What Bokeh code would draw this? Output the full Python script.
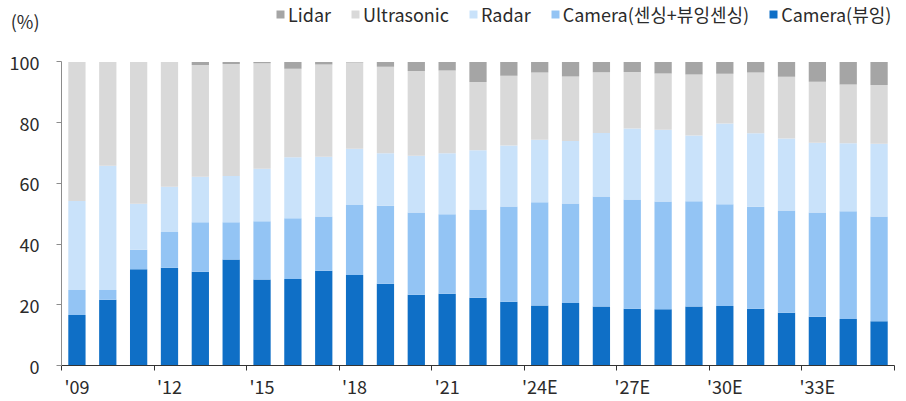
import numpy as np
from bokeh.plotting import figure
from bokeh.models import (ColumnDataSource, FixedTicker, Legend, LegendItem,
                          LinearAxis, Range1d)
from bokeh.embed import file_html
from bokeh.resources import INLINE

years = ["'09", "'10", "'11", "'12", "'13", "'14", "'15", "'16", "'17", "'18",
         "'19", "'20", "'21", "'22", "'23", "'24E", "'25E", "'26E", "'27E",
         "'28E", "'29E", "'30E", "'31E", "'32E", "'33E", "'34E", "'35E"]

camera_view = [16.6, 21.7, 31.7, 32.2, 30.9, 34.9, 28.3, 28.5, 31.2, 29.8,
               26.9, 23.3, 23.6, 22.3, 21.0, 19.8, 20.6, 19.4, 18.7, 18.5,
               19.4, 19.6, 18.7, 17.4, 16.1, 15.3, 14.6]
camera_sensing = [8.3, 3.2, 6.4, 11.8, 16.3, 12.3, 19.2, 20.0, 17.9, 23.1,
                  25.7, 27.1, 26.2, 29.1, 31.4, 34.0, 32.8, 36.3, 36.0, 35.5,
                  34.7, 33.5, 33.6, 33.7, 34.3, 35.5, 34.5]
radar = [29.3, 40.9, 15.2, 14.9, 15.0, 15.2, 17.3, 20.1, 19.7, 18.5,
         17.3, 18.7, 20.1, 19.5, 20.1, 20.6, 20.6, 20.9, 23.4, 23.7,
         21.7, 26.6, 24.2, 23.7, 23.0, 22.4, 24.0]
ultrasonic = [45.8, 34.2, 46.7, 41.1, 36.8, 36.9, 34.8, 29.2, 30.4, 28.4,
              28.5, 27.9, 27.3, 22.5, 23.0, 22.1, 21.2, 20.0, 18.6, 18.5,
              20.1, 16.4, 20.0, 20.3, 20.1, 19.4, 19.3]
lidar = [0.0, 0.0, 0.0, 0.0, 1.0, 0.7, 0.4, 2.2, 0.8, 0.2,
         1.6, 3.0, 2.8, 6.6, 4.5, 3.5, 4.8, 3.4, 3.3, 3.8,
         4.1, 3.9, 3.5, 4.9, 6.5, 7.4, 7.6]

y_ticks = [0, 20, 40, 60, 80, 100]
y_unit = "(%)"

series_names = ["Camera(뷰잉)", "Camera(센싱+뷰잉센싱)", "Radar", "Ultrasonic", "Lidar"]
series_keys = ["view", "sensing", "radar", "ultra", "lidar"]
colors = ["#0F6FC6", "#93C4F4", "#C9E2FA", "#D9D9D9", "#A5A5A5"]

FONT = "Noto Sans CJK KR"
TXT = "#2B2B2B"

W, H = 901, 401
B_LEFT, B_RIGHT, B_TOP, B_BOTTOM = 61, 7, 0, 33
PX_PER_UNIT = 3.06          # vertical scale: 100 % spans 306 px
frame_h = H - B_TOP - B_BOTTOM
y_end = frame_h / PX_PER_UNIT
unit_pos = 100 + 41 / PX_PER_UNIT   # "(%)" sits 41 px above the 100 line

n = len(years)
xpos = np.arange(n) + 0.5
src = ColumnDataSource(dict(x=xpos, view=camera_view, sensing=camera_sensing,
                            radar=radar, ultra=ultrasonic, lidar=lidar))

p = figure(width=W, height=H, output_backend="svg", toolbar_location=None,
           x_range=Range1d(0, n), y_range=Range1d(0, y_end),
           y_axis_location=None,
           min_border_left=B_LEFT, min_border_right=B_RIGHT,
           min_border_top=B_TOP, min_border_bottom=B_BOTTOM)
p.outline_line_color = None
p.grid.grid_line_color = None

rs = p.vbar_stack(series_keys, x="x", width=0.56, color=colors, source=src,
                  line_color=None)

# x axis: labels at bar centres every 3 bars, tick marks at group boundaries
label_pos = [float(xpos[i]) for i in range(0, n, 3)]
p.xaxis.ticker = FixedTicker(ticks=label_pos,
                             minor_ticks=[float(i) for i in range(0, n + 1, 3)])
p.xaxis.major_label_overrides = {float(xpos[i]): years[i] for i in range(0, n, 3)}
p.xaxis.major_tick_out = 0
p.xaxis.major_tick_in = 0
p.xaxis.minor_tick_out = 5
p.xaxis.minor_tick_in = 0
p.xaxis.minor_tick_line_color = "#333333"
p.xaxis.axis_line_color = "#333333"
p.xaxis.major_label_standoff = 2
p.xaxis.major_label_text_font = FONT
p.xaxis.major_label_text_font_size = "18px"
p.xaxis.major_label_text_color = TXT

# y axis line only (0..100), no ticks of its own
y_line = LinearAxis(ticker=FixedTicker(ticks=[]), bounds=(0, 100))
y_line.axis_line_color = "#8C8C8C"
y_line.major_tick_line_color = None
y_line.minor_tick_line_color = None
y_line.major_tick_out = 0
y_line.major_tick_in = 0
y_line.major_label_standoff = 0
p.add_layout(y_line, "left")

# y tick labels (+ unit label above them); tick marks drawn as minor ticks
y_lab = LinearAxis(ticker=FixedTicker(ticks=y_ticks + [unit_pos], minor_ticks=y_ticks))
y_lab.major_label_overrides = {unit_pos: y_unit}
y_lab.axis_line_color = None
y_lab.major_tick_line_color = None
y_lab.major_tick_out = 0
y_lab.major_tick_in = 0
y_lab.minor_tick_line_color = "#8C8C8C"
y_lab.minor_tick_out = 5
y_lab.minor_tick_in = 0
y_lab.major_label_standoff = 17
y_lab.major_label_text_font = FONT
y_lab.major_label_text_font_size = "18px"
y_lab.major_label_text_color = TXT
p.add_layout(y_lab, "left")

order = [4, 3, 2, 1, 0]
legend = Legend(items=[LegendItem(label=series_names[i], renderers=[rs[i]]) for i in order],
                orientation="horizontal", location=(214, frame_h - 30))
legend.border_line_color = None
legend.background_fill_alpha = 0
legend.label_text_font = FONT
legend.label_text_font_size = "18px"
legend.label_text_color = TXT
legend.glyph_width = 10
legend.glyph_height = 10
legend.label_standoff = 3
legend.spacing = 19
legend.padding = 0
legend.margin = 0
p.add_layout(legend)

open("out.html", "w").write(file_html(p, INLINE))
